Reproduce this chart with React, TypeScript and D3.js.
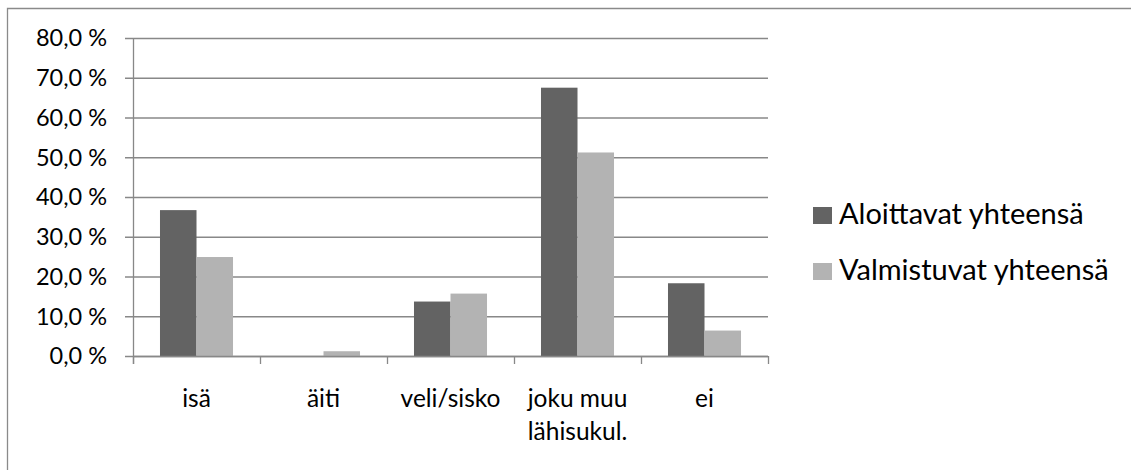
import React, { useEffect, useRef } from "react";
import * as d3 from "d3";

const categories = ["isä", "äiti", "veli/sisko", "joku muu lähisukul.", "ei"];
const seriesNames = ["Aloittavat yhteensä", "Valmistuvat yhteensä"];
const aloittavat = [36.7, 0, 13.7, 67.5, 18.3];
const valmistuvat = [24.9, 1.2, 15.7, 51.2, 6.4];
const yTicks = [0, 10, 20, 30, 40, 50, 60, 70, 80];
const colors = ["#636363", "#b3b3b3"];

const W = 1131, H = 470;
const margin = { top: 38, left: 133, right: 363, bottom: 114 };
const FONT = "Lato, 'Open Sans', sans-serif";

const fiLocale = d3.formatLocale({ decimal: ",", thousands: " ", grouping: [3], currency: ["", " €"] });
const fmt = (v: number) => fiLocale.format(".1f")(v) + " %";

export default function App() {
  const ref = useRef<SVGSVGElement>(null);

  useEffect(() => {
    const svg = d3.select(ref.current);
    svg.selectAll("*").remove();

    const innerBottom = H - margin.bottom;
    const x0 = d3.scaleBand().domain(categories).range([margin.left, W - margin.right]);
    const x1 = d3.scaleBand().domain(seriesNames)
      .range([x0.bandwidth() * 0.2125, x0.bandwidth() * 0.7875]);
    const y = d3.scaleLinear().domain([0, 80]).range([innerBottom, margin.top]);

    // outer frame (only left/top visible in the source)
    svg.append("path")
      .attr("d", `M7.5,${H} V8.5 H${W}`)
      .attr("fill", "none").attr("stroke", "#8a8a8a").attr("stroke-width", 1.3);

    // gridlines + y tick labels
    const grid = svg.append("g");
    grid.selectAll("line").data(yTicks).enter().append("line")
      .attr("x1", margin.left - 8).attr("x2", W - margin.right)
      .attr("y1", d => y(d) + 0.5).attr("y2", d => y(d) + 0.5)
      .attr("stroke", "#888").attr("stroke-width", 1.3);
    grid.selectAll("text").data(yTicks).enter().append("text")
      .attr("x", 107).attr("y", d => y(d)).attr("dy", "0.36em")
      .attr("text-anchor", "end")
      .style("font-family", FONT).style("font-size", "23.5px").attr("fill", "#000")
      .text(d => fmt(d));

    // y axis line
    svg.append("line")
      .attr("x1", margin.left + 0.5).attr("x2", margin.left + 0.5)
      .attr("y1", margin.top).attr("y2", innerBottom + 8)
      .attr("stroke", "#888").attr("stroke-width", 1.3);

    // x tick marks
    const xTickPos = categories.map(c => x0(c) as number).concat([W - margin.right]);
    svg.selectAll(".xtick").data(xTickPos).enter().append("line")
      .attr("class", "xtick")
      .attr("x1", d => d + 0.5).attr("x2", d => d + 0.5)
      .attr("y1", innerBottom).attr("y2", innerBottom + 8)
      .attr("stroke", "#888").attr("stroke-width", 1.3);

    // bars
    const series = [aloittavat, valmistuvat];
    series.forEach((vals, si) => {
      svg.append("g").selectAll("rect").data(vals).enter().append("rect")
        .attr("x", (d, i) => (x0(categories[i]) as number) + (x1(seriesNames[si]) as number))
        .attr("width", x1.bandwidth())
        .attr("y", d => y(d))
        .attr("height", d => innerBottom - y(d))
        .attr("fill", colors[si]);
    });

    // x axis baseline
    svg.append("line")
      .attr("x1", margin.left).attr("x2", W - margin.right)
      .attr("y1", innerBottom + 0.5).attr("y2", innerBottom + 0.5)
      .attr("stroke", "#888").attr("stroke-width", 1.3);

    // category labels
    const labels = svg.append("g");
    categories.forEach(c => {
      const words = c === "joku muu lähisukul." ? ["joku muu", "lähisukul."] : [c];
      const cx = (x0(c) as number) + x0.bandwidth() / 2;
      const t = labels.append("text")
        .attr("x", cx).attr("y", 407)
        .attr("text-anchor", "middle")
        .style("font-family", FONT).style("font-size", "24.5px").attr("fill", "#000");
      words.forEach((w, i) => {
        t.append("tspan").attr("x", cx).attr("dy", i === 0 ? 0 : 33).text(w);
      });
    });

    // legend
    const legend = svg.append("g");
    seriesNames.forEach((s, i) => {
      const ly = 224 + i * 56;
      legend.append("rect")
        .attr("x", 813).attr("y", ly - 17).attr("width", 19).attr("height", 17)
        .attr("fill", colors[i]);
      legend.append("text")
        .attr("x", 839).attr("y", ly)
        .style("font-family", FONT).style("font-size", "29px").attr("fill", "#000")
        .text(s);
    });
  }, []);

  return (
    <svg ref={ref} width={W} height={H}
      style={{ position: "absolute", left: 0, top: 0, background: "#fff", display: "block" }} />
  );
}
